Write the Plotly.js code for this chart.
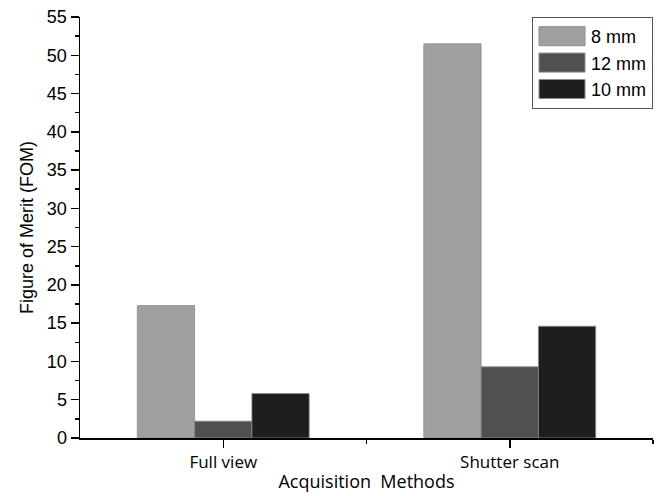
<!DOCTYPE html>
<html>
<head>
<meta charset="utf-8">
<script src="https://cdn.plot.ly/plotly-3.0.1.min.js"></script>
<style>body{margin:0;padding:0;background:#fff}#chart{width:657px;height:496px}</style>
</head>
<body>
<div id="chart"></div>
<script>
const categories = ["Full view", "Shutter scan"];
const catPositions = [0, 1];
const seriesNames = ["8 mm", "12 mm", "10 mm"];
const values8mm = [17.3, 51.5];
const values12mm = [2.2, 9.3];
const values10mm = [5.8, 14.6];
const seriesColors = ["#a0a0a0", "#505050", "#1e1e1e"];
const yTicks = [0, 5, 10, 15, 20, 25, 30, 35, 40, 45, 50, 55];

const seriesValues = [values8mm, values12mm, values10mm];
const traces = seriesNames.map((n, i) => ({
  type: "bar",
  name: n,
  x: catPositions,
  y: seriesValues[i],
  marker: {color: seriesColors[i], line: {color: "#8a8a8a", width: 0.8}}
}));

const layout = {
  width: 657, height: 496,
  margin: {l: 80, r: 4, t: 17, b: 58},
  paper_bgcolor: "#fff", plot_bgcolor: "#fff",
  barmode: "group", bargap: 0.4, bargroupgap: 0,
  showlegend: true,
  legend: {
    x: 1, xanchor: "right", y: 1, yanchor: "top",
    bordercolor: "#555", borderwidth: 1, bgcolor: "#fff",
    font: {family: "Liberation Sans, Arial, sans-serif", size: 18, color: "#000"},
    itemwidth: 48, tracegroupgap: 0
  },
  xaxis: {
    type: "linear", range: [-0.5, 1.5],
    tickmode: "array", tickvals: catPositions, ticktext: categories,
    ticks: "outside", ticklen: 8, tickwidth: 1.5, tickcolor: "#000",
    minor: {tickmode: "array", tickvals: [0.5, 1.5], ticks: "outside", ticklen: 4, tickwidth: 1.5, tickcolor: "#000"},
    showline: true, linecolor: "#000", linewidth: 1.5,
    showgrid: false, zeroline: false,
    tickfont: {family: "Open Sans, Noto Sans, sans-serif", size: 17, color: "#000"},
    title: {text: "Acquisition  Methods", font: {family: "Open Sans, Noto Sans, sans-serif", size: 18, color: "#000"}, standoff: 3}
  },
  yaxis: {
    range: [0, 55], tickmode: "array", tickvals: yTicks,
    ticks: "outside", ticklen: 8, tickwidth: 1.5, tickcolor: "#000",
    minor: {dtick: 2.5, tick0: 0, ticks: "outside", ticklen: 4, tickwidth: 1.5, tickcolor: "#000"},
    showline: true, linecolor: "#000", linewidth: 1.5,
    showgrid: false, zeroline: false,
    tickfont: {family: "Liberation Sans, Arial, sans-serif", size: 18, color: "#000"},
    title: {text: "Figure of Merit (FOM)", font: {family: "Liberation Sans, Arial, sans-serif", size: 18, color: "#000"}, standoff: 8}
  }
};

Plotly.newPlot("chart", traces, layout, {displayModeBar: false, staticPlot: true}).then(gd => {
  gd.querySelectorAll(".legend .legendpoints path").forEach(p => {
    p.setAttribute("d", "M-23,-9.5H23V9.5H-23Z");
    p.style.stroke = "#8a8a8a";
    p.style.strokeWidth = "1px";
  });
});
</script>
</body>
</html>
